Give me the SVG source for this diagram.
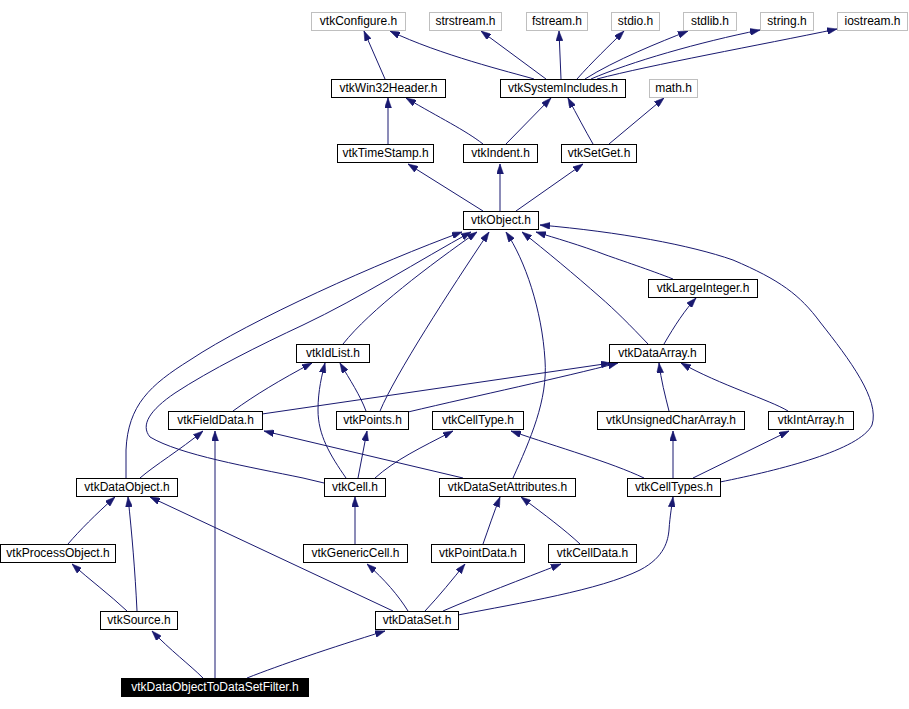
<svg xmlns="http://www.w3.org/2000/svg" width="909" height="709" viewBox="0 0 909 709">
<style>
.n rect{fill:#fff;stroke:#000;stroke-width:1}
.s rect{fill:#fff;stroke:#bfbfbf;stroke-width:1}
.r rect{fill:#000;stroke:#000;stroke-width:1}
text{font-family:"Liberation Sans",Arial,sans-serif;font-size:12px;text-anchor:middle;fill:#000}
.r text{fill:#fff}
#edges path{fill:none;stroke:#191970;stroke-width:1;marker-end:url(#ah)}
</style>
<defs>
<marker id="ah" viewBox="0 0 10 7" refX="10" refY="3.5" markerWidth="10" markerHeight="7" markerUnits="userSpaceOnUse" orient="auto">
<path d="M0,0 L10,3.5 L0,7 z" fill="#191970" stroke="#191970" stroke-width="0.5"/>
</marker>
</defs>
<rect width="909" height="709" fill="#fff"/>
<g id="edges">
<path d="M385,79 L364,31"/>
<path d="M534,79 C510,72 440,55 390,31"/>
<path d="M546,79 L481,31"/>
<path d="M561,79 L559,31"/>
<path d="M577,79 C592,62 610,45 624,31"/>
<path d="M585,79 C615,60 660,42 688,31"/>
<path d="M591,79 C630,62 700,42 760,30"/>
<path d="M597,79 C650,65 760,45 837,29"/>
<path d="M388,144 L388,98"/>
<path d="M483,144 C465,130 440,118 406,98"/>
<path d="M506,144 L551,98"/>
<path d="M593,144 C585,130 577,115 568,98"/>
<path d="M609,144 L664,98"/>
<path d="M483,211 L408,164"/>
<path d="M500,211 L500,164"/>
<path d="M516,211 L583,164"/>
<path d="M126,478 L126,450 C128,405 150,385 190,360 C250,320 380,262 462,232"/>
<path d="M324,483 L303,478 C250,467 180,455 150,437 C140,425 150,410 175,393 C210,370 260,345 303,325 C360,298 420,260 471,232"/>
<path d="M343,344 C370,310 430,265 477,232"/>
<path d="M380,411 C395,375 450,290 489,232"/>
<path d="M513,478 C530,440 548,400 545,360 C542,310 525,260 506,232"/>
<path d="M648,344 C630,325 615,310 600,297 C575,275 545,250 522,232"/>
<path d="M673,279 C650,270 620,260 606,255 C580,245 555,238 536,232"/>
<path d="M720,482 C780,470 860,450 872,425 C880,400 850,360 820,322 C800,295 780,280 733,260 C690,245 620,232 540,225"/>
<path d="M664,344 C675,325 685,310 696,298"/>
<path d="M233,411 C255,395 280,380 312,363"/>
<path d="M262,414 L611,363"/>
<path d="M408,412 C480,395 560,378 618,363"/>
<path d="M366,411 C360,395 350,380 340,363"/>
<path d="M346,478 C330,455 318,435 318,410 C318,390 322,375 325,363"/>
<path d="M358,478 L367,431"/>
<path d="M375,478 C395,460 420,448 453,431"/>
<path d="M463,478 L264,431"/>
<path d="M644,478 C610,462 560,448 511,431"/>
<path d="M669,411 C665,395 661,380 659,363"/>
<path d="M788,411 C770,400 720,385 681,363"/>
<path d="M673,478 L673,431"/>
<path d="M693,478 L789,431"/>
<path d="M140,478 C155,465 180,450 203,431"/>
<path d="M68,544 C80,530 95,515 115,497"/>
<path d="M137,611 C135,570 132,535 128,497"/>
<path d="M393,611 L150,497"/>
<path d="M127,611 C110,595 90,580 72,564"/>
<path d="M355,544 L355,497"/>
<path d="M483,544 C488,530 494,512 500,497"/>
<path d="M580,544 C565,530 545,515 521,497"/>
<path d="M408,611 C398,595 385,580 367,564"/>
<path d="M425,611 C440,595 452,580 465,564"/>
<path d="M443,611 C480,595 520,580 561,564"/>
<path d="M458,615 C520,603 600,590 640,570 C665,557 668,540 669,530 C670,515 672,505 673,497"/>
<path d="M203,678 C190,665 170,650 152,631"/>
<path d="M215,678 L215,431"/>
<path d="M247,678 C280,665 330,648 385,631"/>
</g>
<g id="vtkConfigure" class="s"><rect x="311.5" y="12.5" width="94" height="18"/><text x="358.5" y="25">vtkConfigure.h</text></g>
<g id="strstream" class="s"><rect x="429.5" y="12.5" width="72" height="18"/><text x="465.5" y="25">strstream.h</text></g>
<g id="fstream" class="s"><rect x="526.5" y="12.5" width="61" height="18"/><text x="557" y="25">fstream.h</text></g>
<g id="stdio" class="s"><rect x="611.5" y="12.5" width="48" height="18"/><text x="635.5" y="25">stdio.h</text></g>
<g id="stdlib" class="s"><rect x="683.5" y="12.5" width="53" height="18"/><text x="710" y="25">stdlib.h</text></g>
<g id="string" class="s"><rect x="760.5" y="12.5" width="53" height="18"/><text x="787" y="25">string.h</text></g>
<g id="iostream" class="s"><rect x="837.5" y="12.5" width="70" height="18"/><text x="872.5" y="25">iostream.h</text></g>
<g id="vtkWin32Header" class="n"><rect x="331.5" y="79.5" width="114" height="18"/><text x="388.5" y="92">vtkWin32Header.h</text></g>
<g id="vtkSystemIncludes" class="n"><rect x="500.5" y="79.5" width="125" height="18"/><text x="563" y="92">vtkSystemIncludes.h</text></g>
<g id="math" class="s"><rect x="649.5" y="79.5" width="48" height="18"/><text x="673.5" y="92">math.h</text></g>
<g id="vtkTimeStamp" class="n"><rect x="337.5" y="144.5" width="96" height="18"/><text x="385.5" y="157">vtkTimeStamp.h</text></g>
<g id="vtkIndent" class="n"><rect x="463.5" y="144.5" width="74" height="18"/><text x="500.5" y="157">vtkIndent.h</text></g>
<g id="vtkSetGet" class="n"><rect x="561.5" y="144.5" width="75" height="18"/><text x="599" y="157">vtkSetGet.h</text></g>
<g id="vtkObject" class="n"><rect x="463.5" y="211.5" width="75" height="18"/><text x="501" y="224">vtkObject.h</text></g>
<g id="vtkLargeInteger" class="n"><rect x="648.5" y="279.5" width="109" height="18"/><text x="703" y="292">vtkLargeInteger.h</text></g>
<g id="vtkIdList" class="n"><rect x="296.5" y="344.5" width="73" height="18"/><text x="333" y="357">vtkIdList.h</text></g>
<g id="vtkDataArray" class="n"><rect x="609.5" y="344.5" width="96" height="18"/><text x="657.5" y="357">vtkDataArray.h</text></g>
<g id="vtkFieldData" class="n"><rect x="168.5" y="411.5" width="94" height="18"/><text x="215.5" y="424">vtkFieldData.h</text></g>
<g id="vtkPoints" class="n"><rect x="336.5" y="411.5" width="72" height="18"/><text x="372.5" y="424">vtkPoints.h</text></g>
<g id="vtkCellType" class="n"><rect x="432.5" y="411.5" width="91" height="18"/><text x="478" y="424">vtkCellType.h</text></g>
<g id="vtkUnsignedCharArray" class="n"><rect x="597.5" y="411.5" width="147" height="18"/><text x="671" y="424">vtkUnsignedCharArray.h</text></g>
<g id="vtkIntArray" class="n"><rect x="768.5" y="411.5" width="85" height="18"/><text x="811" y="424">vtkIntArray.h</text></g>
<g id="vtkDataObject" class="n"><rect x="76.5" y="478.5" width="101" height="18"/><text x="127" y="491">vtkDataObject.h</text></g>
<g id="vtkCell" class="n"><rect x="324.5" y="478.5" width="61" height="18"/><text x="355" y="491">vtkCell.h</text></g>
<g id="vtkDataSetAttributes" class="n"><rect x="439.5" y="478.5" width="136" height="18"/><text x="507.5" y="491">vtkDataSetAttributes.h</text></g>
<g id="vtkCellTypes" class="n"><rect x="627.5" y="478.5" width="93" height="18"/><text x="674" y="491">vtkCellTypes.h</text></g>
<g id="vtkProcessObject" class="n"><rect x="0.5" y="544.5" width="115" height="18"/><text x="58" y="557">vtkProcessObject.h</text></g>
<g id="vtkGenericCell" class="n"><rect x="303.5" y="544.5" width="104" height="18"/><text x="355.5" y="557">vtkGenericCell.h</text></g>
<g id="vtkPointData" class="n"><rect x="431.5" y="544.5" width="93" height="18"/><text x="478" y="557">vtkPointData.h</text></g>
<g id="vtkCellData" class="n"><rect x="548.5" y="544.5" width="88" height="18"/><text x="592.5" y="557">vtkCellData.h</text></g>
<g id="vtkSource" class="n"><rect x="100.5" y="611.5" width="77" height="18"/><text x="139" y="624">vtkSource.h</text></g>
<g id="vtkDataSet" class="n"><rect x="375.5" y="611.5" width="83" height="18"/><text x="417" y="624">vtkDataSet.h</text></g>
<g id="vtkDataObjectToDataSetFilter" class="r"><rect x="121.5" y="678.5" width="187" height="18"/><text x="215" y="691">vtkDataObjectToDataSetFilter.h</text></g>
</svg>
